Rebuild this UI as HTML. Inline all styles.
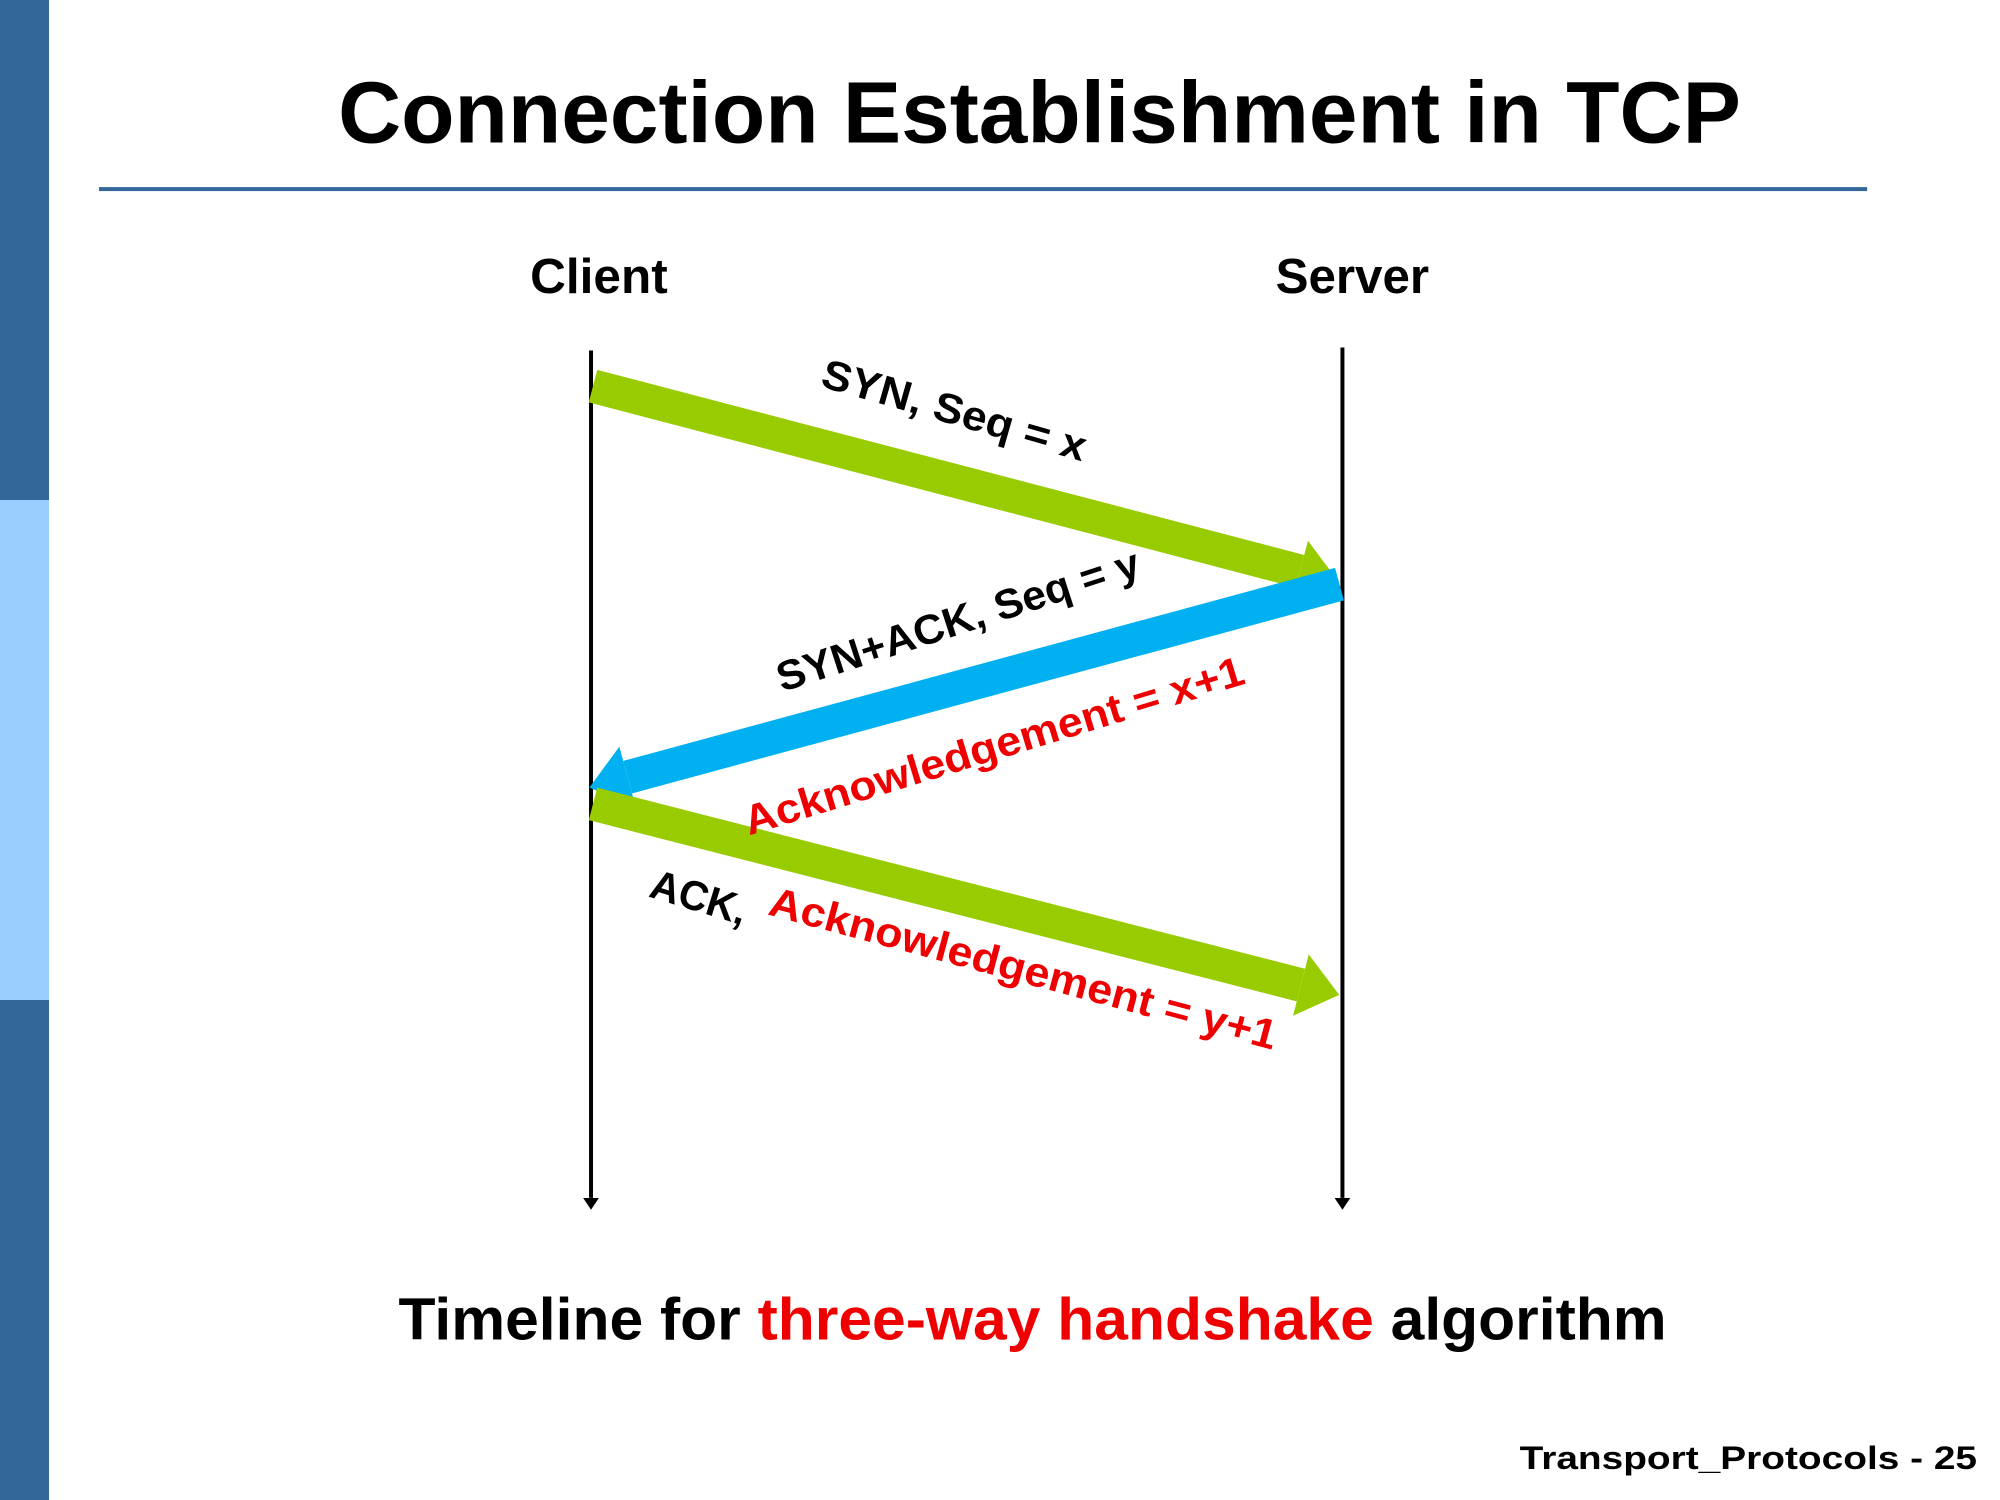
<!DOCTYPE html>
<html><head><meta charset="utf-8"><style>
html,body{margin:0;padding:0;background:#fff;}
svg{display:block;}
</style></head><body>
<svg width="2000" height="1500" viewBox="0 0 2000 1500" xmlns="http://www.w3.org/2000/svg" font-family="Liberation Sans, sans-serif" font-weight="bold">
<defs>
<marker id="hg" viewBox="0 0 40 64" refX="0" refY="32" markerWidth="40" markerHeight="64" markerUnits="userSpaceOnUse" orient="auto"><path d="M0,0 L40,32 L0,64 Z" fill="#99cc00"/></marker>
<marker id="hb" viewBox="0 0 40 64" refX="0" refY="32" markerWidth="40" markerHeight="64" markerUnits="userSpaceOnUse" orient="auto"><path d="M0,0 L40,32 L0,64 Z" fill="#00b0f0"/></marker>
<marker id="hk" viewBox="0 0 12 16" refX="0" refY="8" markerWidth="12" markerHeight="16" markerUnits="userSpaceOnUse" orient="auto"><path d="M0,0 L12,8 L0,16 Z" fill="#000"/></marker>
</defs>
<rect x="0" y="0" width="49" height="500" fill="#336699"/>
<rect x="0" y="500" width="49" height="500" fill="#99ccff"/>
<rect x="0" y="1000" width="49" height="500" fill="#336699"/>
<g transform="scale(0.99)">
<text x="1050" y="144" font-size="88" text-anchor="middle" textLength="1417" lengthAdjust="spacingAndGlyphs">Connection Establishment in TCP</text>
<rect x="100" y="189" width="1786" height="4" fill="#336699"/>
<text x="605" y="296" font-size="50" text-anchor="middle" textLength="139" lengthAdjust="spacingAndGlyphs">Client</text>
<text x="1366" y="296" font-size="50" text-anchor="middle" textLength="155" lengthAdjust="spacingAndGlyphs">Server</text>
<line x1="597" y1="354" x2="597" y2="1210" stroke="#000" stroke-width="4" marker-end="url(#hk)"/>
<line x1="1356" y1="351" x2="1356" y2="1210" stroke="#000" stroke-width="4" marker-end="url(#hk)"/>
<line x1="599" y1="390" x2="1313" y2="577" stroke="#99cc00" stroke-width="34" marker-end="url(#hg)"/>
<line x1="1353" y1="590" x2="634" y2="785" stroke="#00b0f0" stroke-width="34" marker-end="url(#hb)"/>
<line x1="599" y1="812" x2="1314" y2="995" stroke="#99cc00" stroke-width="34" marker-end="url(#hg)"/>
<text transform="translate(960,428) rotate(16)" font-size="42" text-anchor="middle" textLength="276" lengthAdjust="spacingAndGlyphs">SYN, Seq = x</text>
<text transform="translate(972,640) rotate(-18)" font-size="42" text-anchor="middle" textLength="383" lengthAdjust="spacingAndGlyphs">SYN+ACK, Seq = y</text>
<text transform="translate(1008,767) rotate(-17)" font-size="42" text-anchor="middle" fill="#ee0000" textLength="526" lengthAdjust="spacingAndGlyphs">Acknowledgement = x+1</text>
<text transform="translate(702,920) rotate(17)" font-size="42" text-anchor="middle" textLength="100" lengthAdjust="spacingAndGlyphs">ACK,</text>
<text transform="translate(1030,992) rotate(15)" font-size="42" text-anchor="middle" fill="#ee0000" textLength="529" lengthAdjust="spacingAndGlyphs">Acknowledgement = y+1</text>
<text x="1043" y="1353" font-size="60" text-anchor="middle" textLength="1281" lengthAdjust="spacingAndGlyphs">Timeline for <tspan fill="#ee0000">three-way handshake</tspan> algorithm</text>
<text x="1997" y="1484" font-size="33" text-anchor="end" textLength="462" lengthAdjust="spacingAndGlyphs">Transport_Protocols - 25</text>
</g>
</svg>
</body></html>
